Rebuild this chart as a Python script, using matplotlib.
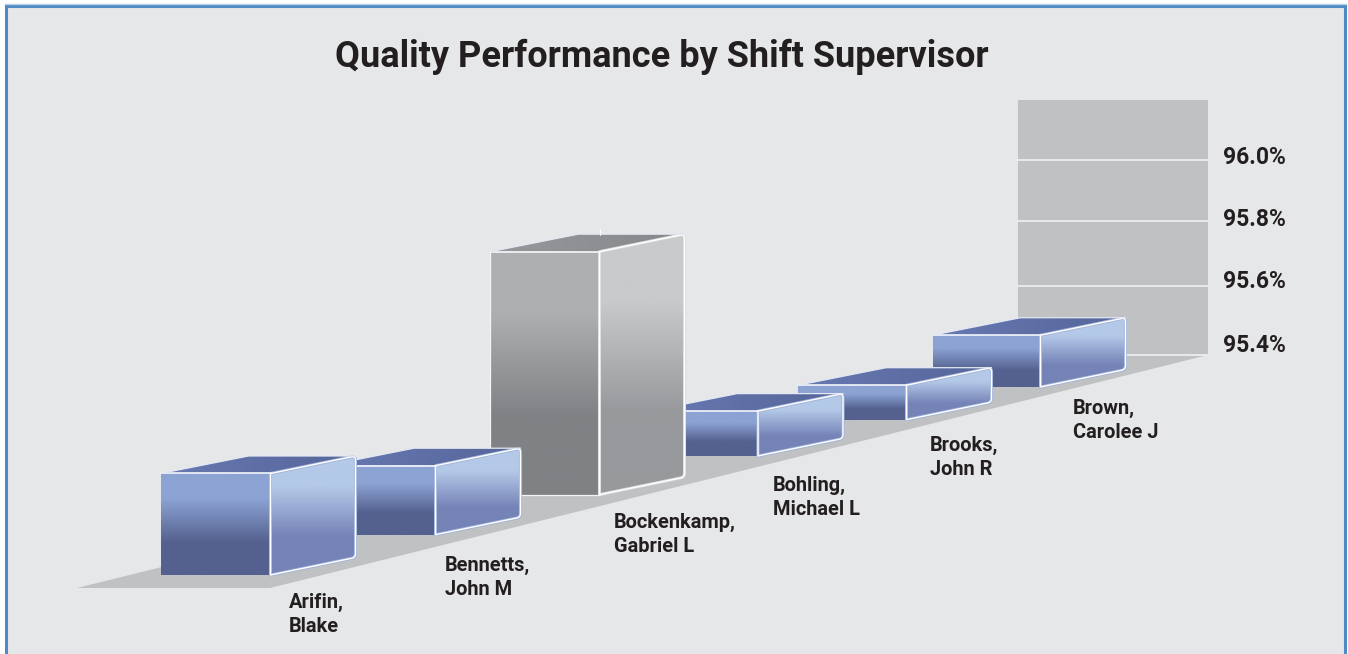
import numpy as np
import matplotlib
matplotlib.use("Agg")
import matplotlib.pyplot as plt
from matplotlib.patches import Polygon, Rectangle

# data
categories = ["Arifin,\nBlake", "Bennetts,\nJohn M", "Bockenkamp,\nGabriel L",
              "Bohling,\nMichael L", "Brooks,\nJohn R", "Brown,\nCarolee J"]
values = [95.70, 95.60, 96.16, 95.53, 95.50, 95.55]
axis_ticks = [95.4, 95.6, 95.8, 96.0, 96.2]
tick_labels = ["95.4%", "95.6%", "95.8%", "96.0%"]
highlight = "Bockenkamp,\nGabriel L"

# layout, pixels of the 1348x654 picture
wall_rises = [0, 69, 134, 195, 255]   # height on the wall for each axis tick
label_x = [289, 445, 614, 773, 930, 1073]
label_y = [604, 567, 524, 487, 447, 410]
tick_label_y = [346, 281, 220, 157]
WALL_L, WALL_R, WALL_Y = 1018, 1208, 355
BG = "#e6e7e9"
INK = "#231f20"
FONT = ["Roboto", "DejaVu Sans"]

BLUE = dict(front=["#8ca3d3", "#8ca3d3", "#54618f", "#54618f"],
            side=["#b4c9e8", "#b4c9e8", "#7583b7", "#7583b7"],
            top=("#6879b2", "#56669a"), rim="#9fb2d8")
GREY = dict(front=["#aeafb1", "#aeafb1", "#808184", "#808184"],
            side=["#c9cacc", "#c9cacc", "#98999c", "#98999c"],
            top=("#97989b", "#87888b"), rim="#d8d9da")
STOPS = [0, 0.25, 0.68, 1]


def rise(v):
    return np.interp(v, axis_ticks, wall_rises)


def floor_pos(i):
    # front right foot of bar i, floor recedes a little towards the wall
    dx = 164 * i + 1.75 * i**2 - 0.75 * i**3
    return 270.5 + dx, 575 - 0.2442 * dx


def soften(pts, corners, r=4):
    # replace the given corners of a polygon by a small quadratic curve
    pts = np.array(pts, dtype=float)
    out = []
    for n, p in enumerate(pts):
        if n not in corners:
            out.append(p)
            continue
        a = pts[n - 1] - p
        b = pts[(n + 1) % len(pts)] - p
        a = p + a / np.hypot(*a) * r
        b = p + b / np.hypot(*b) * r
        for s in np.linspace(0, 1, 7):
            out.append((1 - s)**2 * a + 2 * s * (1 - s) * p + s**2 * b)
    return np.array(out)


def gradient_poly(ax, pts, cols, stops, z, horizontal=False):
    pts = np.array(pts)
    rgb = np.array([matplotlib.colors.to_rgb(c) for c in cols])
    t = np.linspace(0, 1, 256)
    g = np.stack([np.interp(t, stops, rgb[:, k]) for k in range(3)], axis=-1)
    g = g[None, :, :] if horizontal else g[:, None, :]
    im = ax.imshow(g, extent=[pts[:, 0].min(), pts[:, 0].max(), pts[:, 1].max(), pts[:, 1].min()],
                   aspect="auto", zorder=z, interpolation="bilinear")
    clip = Polygon(pts, closed=True, transform=ax.transData, fc="none", ec="none")
    ax.add_patch(clip)
    im.set_clip_path(clip)


def draw_bar(ax, i, value, z):
    x, y = floor_pos(i)
    h = rise(value)
    w = 110 - 0.4 * i
    dx, dy = 85, 17.5
    pal = GREY if categories[i] == highlight else BLUE
    grey = pal is GREY

    front = [(x - w, y - h), (x, y - h), (x, y), (x - w, y)]
    side = soften([(x, y - h), (x + dx, y - h - dy), (x + dx, y - dy), (x, y)], [1, 2])
    top = [(x - w, y - h), (x, y - h), (x + dx, y - h - dy), (x - w + 88, y - h - dy)]

    gradient_poly(ax, front, pal["front"], STOPS, z)
    gradient_poly(ax, side, pal["side"], STOPS, z + 0.1)
    gradient_poly(ax, top, pal["top"], [0, 1], z + 0.2, horizontal=True)

    # light rim with a white line on top of it
    ax.add_patch(Polygon(side, closed=True, fc="none", ec=pal["rim"], lw=2.2, joinstyle="round", zorder=z + 0.25))
    ax.add_patch(Polygon(side, closed=True, fc="none", ec="white", lw=1.0, joinstyle="round", zorder=z + 0.3))
    ax.plot([front[0][0], front[1][0]], [front[0][1], front[1][1]], color="#f4f6fb", lw=1.2, zorder=z + 0.3)
    ax.plot([top[0][0], top[3][0], top[2][0]], [top[0][1], top[3][1], top[2][1]],
            color="#e3e8f3", lw=0.9, zorder=z + 0.3)
    if grey:
        ax.plot([x - w, x - w], [y - h, y], color="#f4f4f5", lw=0.9, zorder=z + 0.3)
        ax.plot([x - w, x], [y, y], color="#f4f4f5", lw=0.9, zorder=z + 0.3)
        ax.plot([x, x], [y - h - 23, y - h - 17], color="white", lw=0.6, zorder=z + 0.3)


fig = plt.figure(figsize=(13.48, 6.54), dpi=100, facecolor="white")
ax = fig.add_axes([0, 0, 1, 1])
ax.axis("off")

# panel with blue border, runs off the bottom
ax.add_patch(Rectangle((6, 6), 1339, 670, fc=BG, ec="#4f8ac4", lw=2.2, zorder=0))
ax.plot([5, 1346], [4.3, 4.3], color="#b5cfe6", lw=1, zorder=0.1)

# wall and gridlines
ax.add_patch(Rectangle((WALL_L, WALL_Y - rise(axis_ticks[-1])), WALL_R - WALL_L, rise(axis_ticks[-1]),
                       fc="#c0c1c3", ec="none", zorder=1))
# floor
ax.add_patch(Polygon([(77, 588), (270, 588), (WALL_R, WALL_Y), (WALL_L, WALL_Y)],
                     closed=True, fc="#c0c1c3", ec="none", zorder=1))
for k, (t, lab) in enumerate(zip(axis_ticks, tick_labels)):
    gy = WALL_Y - rise(t)
    ax.plot([WALL_L, WALL_R], [gy, gy], color="#f4f4f5", lw=1.1, zorder=1.5)
    ax.text(1223, tick_label_y[k], lab, ha="left", va="center", fontsize=16.5,
            fontweight="bold", color=INK, family=FONT)

# back to front
for i in range(len(categories) - 1, -1, -1):
    draw_bar(ax, i, values[i], 2 + (len(categories) - i))

for i, name in enumerate(categories):
    ax.text(label_x[i], label_y[i] - 11, name, ha="left", va="top", fontsize=14.4, fontweight="bold",
            color=INK, family=FONT, linespacing=1.31)

ax.text(662, 57, "Quality Performance by Shift Supervisor", ha="center", va="center",
        fontsize=26, fontweight="bold", color=INK, family=FONT)

ax.set_xlim(0, 1348)
ax.set_ylim(654, 0)
fig.savefig("out.png", dpi=100, facecolor="white")
